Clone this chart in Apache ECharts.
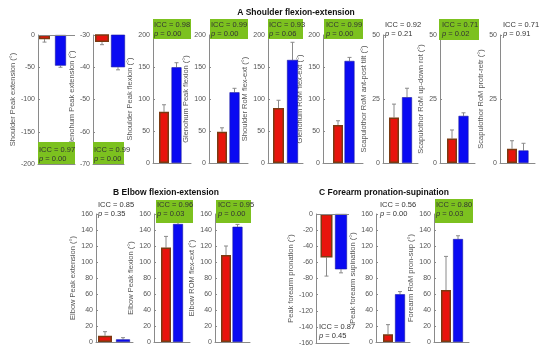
<!DOCTYPE html>
<html><head><meta charset="utf-8">
<script src="https://cdn.jsdelivr.net/npm/echarts@6/dist/echarts.min.js"></script>
<style>html,body{margin:0;padding:0;background:#fff}#c{width:550px;height:354px}</style>
</head><body><div id="c"></div>
<script>
// ---------- DATA ----------
const sectionTitles = ['A Shoulder flexion-extension', 'B Elbow flexion-extension', 'C Forearm pronation-supination'];
const panelNames = [
  'Shoulder Peak extension (°)', 'Glenohum Peak extension (°)', 'Shoulder Peak flexion (°)',
  'Glenohum Peak flexion (°)', 'Shoulder RoM flex-ext (°)', 'Glenohum RoM flex-ext (°)',
  'Scapulothor RoM ant-post tilt (°)', 'Scapulothor RoM up-down rot (°)', 'Scapulothor RoM protr-retr (°)',
  'Elbow Peak extension (°)', 'Elbow Peak flexion (°)', 'Elbow ROM flex-ext (°)',
  'Peak forearm pronation (°)', 'Peak forearm supination (°)', 'Forearm RoM pron-sup (°)'
];
const redVals  = [-6.5, -32.2, 80, 49, 86, 59.5, 17.8, 9.6, 5.6, 7.9, 118, 108.8, -54, 9.7, 65];
const redErr   = [-11, -33, 91, 55, 98, 66, 23, 12.9, 8.7, 12.9, 132, 120, -77, 21.7, 107];
const blueVals = [-47.5, -40, 149.5, 110.5, 161, 159.5, 25.7, 18.4, 4.9, 3.3, 147.5, 144, -68.6, 59.7, 128.7];
const blueErr  = [-50, -40.8, 156.7, 116.7, 188.6, 165, 29.2, 19.6, 7.7, 5.4, 150, 147, -73, 63, 132.8];
const yMin      = [-200, -70, 0, 0, 0, 0, 0, 0, 0, 0, 0, 0, -160, 0, 0];
const yMax      = [0, -30, 200, 200, 200, 200, 50, 50, 50, 160, 160, 160, 0, 160, 160];
const yInterval = [50, 10, 50, 50, 50, 50, 25, 25, 25, 20, 20, 20, 20, 20, 20];
const iccVals = ['0.97', '0.99', '0.98', '0.99', '0.93', '0.99', '0.92', '0.71', '0.71', '0.85', '0.96', '0.95', '0.87', '0.56', '0.80'];
const pVals   = ['0.00', '0.00', '0.00', '0.00', '0.06', '0.00', '0.21', '0.02', '0.91', '0.35', '0.03', '0.00', '0.45', '0.00', '0.03'];
const significant = [true, true, true, true, true, true, false, true, false, false, true, true, false, false, true];

// ---------- LAYOUT (pixels) ----------
// [axisLeft, axisRight, bar1Center, bar2Center, barWidth, top, bottom, nameGap]
const layout = [
  [38, 75, 44.5, 60.5, 11, 35, 164, 16],
  [93, 124, 102, 118, 14, 35, 164, 9],
  [153, 191, 164, 176.5, 10, 35, 163, 14],
  [209, 248, 222, 234.5, 10, 35, 163, 9],
  [268, 303, 278.5, 292.5, 11, 35, 163, 16],
  [323, 363, 338, 349.5, 10, 35, 163, 11],
  [383, 418, 394, 407, 10, 35, 163, 11],
  [440, 475, 452, 463.5, 10, 35, 163, 6],
  [500, 535, 512, 523.5, 10, 35, 163, 3],
  [96, 133, 105, 123, 14, 214, 342, 15],
  [154, 190, 166, 178, 10, 214, 342, 13],
  [215, 250, 226, 237.5, 10, 214, 342, 17],
  [316, 349, 326.5, 341, 12, 214, 343, 4],
  [376, 410, 388, 400, 10, 214, 342, 4],
  [434, 469, 446, 458, 10, 214, 342, 13]
];
// ICC label position: [x, y of first line, boxLeft, boxRight, boxTop, boxBottom]
const labelPos = [
  [39, 150, 38, 75, 142, 164],
  [94, 150, 93, 124, 142, 164],
  [154, 25, 153, 191, 19, 39],
  [211, 25, 210, 248, 19, 39],
  [269, 25, 268, 303, 19, 39],
  [326, 25, 324, 363, 19, 39],
  [385, 25, 0, 0, 0, 0],
  [442, 25, 439, 479, 19, 40],
  [503, 25, 0, 0, 0, 0],
  [98, 205, 0, 0, 0, 0],
  [157, 205, 156, 193, 200, 223],
  [218, 205, 216, 251, 200, 223],
  [319, 327, 0, 0, 0, 0],
  [380, 205, 0, 0, 0, 0],
  [436, 205, 435, 473, 199, 223]
];

const RED = '#e8140c', BROWN = '#7a3a12', BLUE = '#0a0af2', GREEN = '#7cc11f';
const font = 'Liberation Sans, Arial, Helvetica, sans-serif';

const grids = [], xAxes = [], yAxes = [], series = [], graphics = [];

panelNames.forEach((name, i) => {
  const [L, R, c1, c2, bw, top, bottom, gap] = layout[i];
  const u = c2 - c1;
  const xmin = 1 - (c1 - L) / u;
  const xmax = 1 + (R - c1) / u;
  grids.push({ left: L, top: top, width: R - L, height: bottom - top, containLabel: false });
  xAxes.push({
    type: 'value', gridIndex: i, min: xmin, max: xmax, position: 'bottom',
    axisLine: { show: true, onZero: false, lineStyle: { color: '#8a8a8a', width: 1 } },
    axisTick: { show: false }, axisLabel: { show: false }, splitLine: { show: false }
  });
  yAxes.push({
    type: 'value', gridIndex: i, min: yMin[i], max: yMax[i], interval: yInterval[i],
    name: name, nameLocation: 'middle', nameGap: gap,
    nameTextStyle: { fontSize: 7.5, color: '#555', fontFamily: font },
    axisLine: { show: true, onZero: false, lineStyle: { color: '#8a8a8a', width: 1 } },
    axisTick: { show: true, inside: true, length: 2, lineStyle: { color: '#8a8a8a' } },
    axisLabel: { fontSize: 7, color: '#555', margin: 3, fontFamily: font },
    splitLine: { show: false }
  });
  const barSeries = {
    type: 'bar', xAxisIndex: i, yAxisIndex: i, barWidth: bw, clip: true,
    data: [
      { value: [1, redVals[i]], itemStyle: { color: RED, borderColor: BROWN, borderWidth: 1.5 } },
      { value: [2, blueVals[i]], itemStyle: { color: BLUE, borderColor: '#1a1aa0', borderWidth: 0.6 } }
    ],
    animation: false
  };
  if (yMin[i] < 0 && yMax[i] === 0) {
    barSeries.markLine = {
      silent: true, symbol: 'none', label: { show: false },
      lineStyle: { color: '#8a8a8a', type: 'solid', width: 1 },
      data: [{ yAxis: 0 }], animation: false
    };
  }
  series.push(barSeries);
  series.push({
    type: 'custom', xAxisIndex: i, yAxisIndex: i, animation: false,
    data: [[1, redVals[i], redErr[i]], [2, blueVals[i], blueErr[i]]],
    renderItem: (params, api) => {
      const x = api.value(0);
      const p0 = api.coord([x, api.value(1)]);
      const p1 = api.coord([x, api.value(2)]);
      const cap = 2;
      const st = { stroke: '#8a8a8a', lineWidth: 1 };
      return {
        type: 'group', children: [
          { type: 'line', shape: { x1: p0[0], y1: p0[1], x2: p1[0], y2: p1[1] }, style: st },
          { type: 'line', shape: { x1: p1[0] - cap, y1: p1[1], x2: p1[0] + cap, y2: p1[1] }, style: st }
        ]
      };
    }
  });
  const [tx, ty, bl, br, bt, bb] = labelPos[i];
  if (significant[i]) {
    graphics.push({ type: 'rect', shape: { x: bl, y: bt, width: br - bl, height: bb - bt }, style: { fill: GREEN }, z: 10 });
  }
  graphics.push({
    type: 'text', left: tx, top: ty - 5, z: 11,
    style: {
      text: 'ICC = ' + iccVals[i] + '\n{i|p} = ' + pVals[i],
      fontSize: 7.5, fontFamily: font, fill: '#333', lineHeight: 9.5,
      rich: { i: { fontStyle: 'italic', fontSize: 7.5, fontFamily: font, fill: '#333' } }
    }
  });
});

const titlePos = [[296, 13], [166, 193], [384, 193]];
sectionTitles.forEach((t, k) => {
  graphics.push({
    type: 'text', x: titlePos[k][0], y: titlePos[k][1], z: 12,
    style: { text: t, fontSize: 8.5, fontWeight: 'bold', fontFamily: font, fill: '#111', textAlign: 'center', textVerticalAlign: 'middle' }
  });
});

const chart = echarts.init(document.getElementById('c'), null, { renderer: 'canvas' });
chart.setOption({
  animation: false,
  grid: grids, xAxis: xAxes, yAxis: yAxes, series: series, graphic: graphics
});
</script></body></html>
